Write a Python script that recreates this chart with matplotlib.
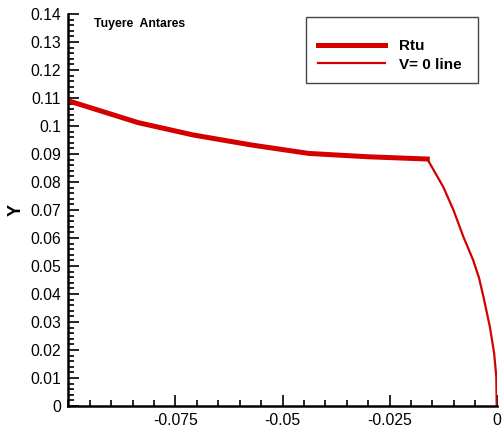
import matplotlib
matplotlib.use("Agg")
import matplotlib.pyplot as plt
from matplotlib.patches import Rectangle
from matplotlib.ticker import MultipleLocator

plt.rcParams['font.family'] = ['Liberation Sans', 'DejaVu Sans']

# nozzle wall contour (Rtu)
rtu_x = [-0.1, -0.0837, -0.0709, -0.0572, -0.0439, -0.0300, -0.0162]
rtu_y = [0.1090, 0.1012, 0.0968, 0.0932, 0.0902, 0.0890, 0.0882]

# V = 0 line
v0_x = [-0.0162, -0.0125, -0.0101, -0.0078, -0.0055, -0.0041, -0.0031,
        -0.0016, -0.0006, -0.0001, 0.0]
v0_y = [0.0882, 0.0783, 0.0700, 0.0605, 0.0521, 0.0456, 0.0390,
        0.0283, 0.0188, 0.0105, 0.0]

red = '#d40000'

fig = plt.figure(figsize=(5.03, 4.41), dpi=100)
ax = fig.add_axes([0.1358, 0.0794, 0.8517, 0.8889])

ax.plot(rtu_x, rtu_y, color=red, lw=3.6, label='Rtu', solid_joinstyle='miter')
ax.plot(v0_x, v0_y, color=red, lw=1.6, label='V= 0 line')

ax.set_xlim(-0.1, 0.0)
ax.set_ylim(0.0, 0.14)
ax.xaxis.set_minor_locator(MultipleLocator(0.005))
ax.yaxis.set_minor_locator(MultipleLocator(0.002))
ax.set_xticks([-0.075, -0.05, -0.025, 0.0])
ax.set_xticklabels(['-0.075', '-0.05', '-0.025', '0'])
ax.set_yticks([i / 100 for i in range(15)])
ax.set_yticklabels(['0'] + ['%g' % (i / 100) for i in range(1, 15)])

ax.tick_params(which='both', direction='in', labelsize=11.3, width=1.2)
ax.tick_params(which='major', length=8, pad=5)
ax.tick_params(which='minor', length=4)
for s in ['top', 'right']:
    ax.spines[s].set_visible(False)
for s in ['left', 'bottom']:
    ax.spines[s].set_linewidth(1.8)

ax.set_ylabel('Y', fontsize=13, fontweight='bold', labelpad=4)
ax.text(0.06, 0.99, 'Tuyere  Antares', transform=ax.transAxes,
        fontsize=8.8, fontweight='bold', va='top')

# legend box drawn separately (entries sit lower in the box, tecplot style)
ax.add_patch(Rectangle((0.555, 0.824), 0.401, 0.168, transform=ax.transAxes,
                       facecolor='white', edgecolor='#444444', lw=1.0,
                       zorder=4, clip_on=False))
leg = ax.legend(loc='upper right', bbox_to_anchor=(0.956, 0.977), borderaxespad=0,
                frameon=False, handlelength=4.4,
                prop={'weight': 'bold', 'size': 11},
                borderpad=1.05, labelspacing=0.3, handletextpad=0.9)
leg.set_zorder(5)

fig.savefig('out.png', dpi=100)
